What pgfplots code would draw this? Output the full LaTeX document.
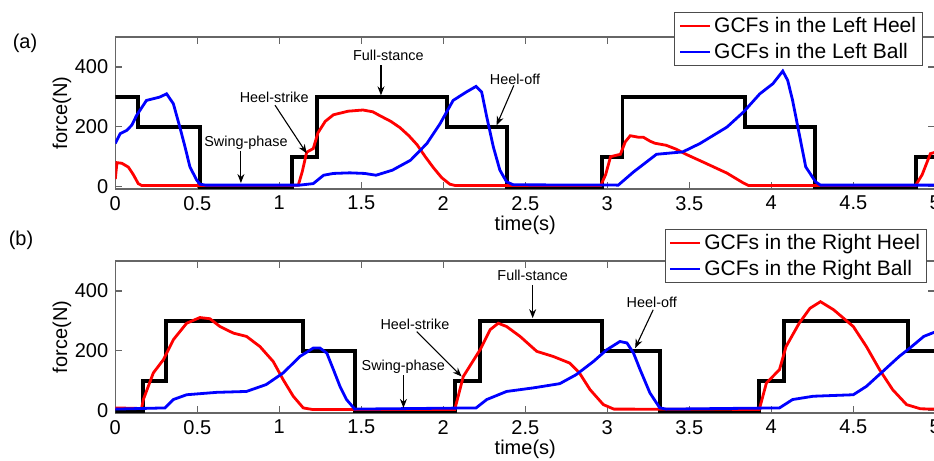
\documentclass[border=0pt]{standalone}
\usepackage{fontspec}
\setmainfont{Liberation Sans}
\usepackage{pgfplots}
\pgfplotsset{compat=1.18}
\usetikzlibrary{arrows.meta}

\definecolor{mred}{RGB}{255,0,0}
\definecolor{mblue}{RGB}{0,0,255}

\tikzset{
  ann/.style={font=\fontsize{7.2}{8}\selectfont, anchor=center},
  arr/.style={-{Stealth[length=4.5pt,width=3.5pt]}, line width=0.55pt},
}

\pgfplotsset{
  gcf/.style={
    scale only axis, width=410pt, height=76pt,
    xmin=0, xmax=5, ymin=-8, ymax=500,
    xtick={0,0.5,...,5}, ytick={0,200,400},
    tick align=inside, major tick length=3.5pt,
    axis line style={black!60, line width=0.6pt},
    tick style={black!60, line width=0.6pt},
    ticklabel style={font=\fontsize{10}{12}\selectfont},
    /pgf/number format/assume math mode=true,
    xlabel={time(s)}, ylabel={force(N)},
    label style={font=\fontsize{10}{12}\selectfont},
    xlabel style={at={(axis description cs:0.5,-0.237)}, anchor=center},
    ylabel style={at={(axis description cs:-0.065,0.5)}, anchor=center},
    legend cell align=left,
    legend style={font=\fontsize{10.5}{12}\selectfont, draw=black!70, fill=white,
      line width=0.5pt, inner xsep=2pt, inner ysep=1pt, row sep=1.5pt,
      nodes={inner sep=1.2pt}},
    legend image code/.code={\draw[#1] (0pt,0pt) -- (15pt,0pt);},
  },
  stepln/.style={black, line width=1.9pt, const plot, forget plot},
  heel/.style={mred, line width=1.4pt},
  ball/.style={mblue, line width=1.4pt},
}

\begin{document}
\begin{tikzpicture}
\path[use as bounding box] (0,0) rectangle (467pt,230.5pt);

\node[font=\fontsize{10}{12}\selectfont] at (12.5pt,209pt) {(a)};
\node[font=\fontsize{10}{12}\selectfont] at (10.5pt,110.5pt) {(b)};

% (a) left foot
\begin{axis}[gcf, at={(57.65pt,136pt)}, anchor=south west,
  legend style={at={(0.985,1.164)}, anchor=north east}]
\addplot[stepln] coordinates {(0,300) (0.140,200) (0.516,0) (1.079,100) (1.232,300) (2.021,200) (2.390,0) (2.970,100) (3.093,300) (3.840,200) (4.266,0) (4.880,100) (5,100)};
\addplot[heel] coordinates {(0,25) (0.01,80) (0.04,78) (0.08,65) (0.11,40) (0.14,10) (0.16,4) (0.5,4) (1.08,4) (1.116,5) (1.14,50) (1.167,115) (1.207,127) (1.236,180) (1.28,218) (1.33,240) (1.42,252) (1.51,256) (1.57,250) (1.61,238) (1.68,218) (1.736,197) (1.79,170) (1.84,140) (1.89,100) (1.94,63) (1.99,30) (2.04,8) (2.07,4) (2.96,4) (2.99,40) (3.02,100) (3.08,108) (3.11,150) (3.14,170) (3.19,165) (3.22,165) (3.26,152) (3.29,145) (3.36,138) (3.42,125) (3.48,108) (3.6,78) (3.73,45) (3.83,12) (3.86,4) (4.88,4) (4.92,40) (4.97,110) (5,115)};
\addplot[ball] coordinates {(0,144) (0.03,177) (0.07,188) (0.1,205) (0.13,238) (0.19,288) (0.27,299) (0.313,310) (0.354,277) (0.393,200) (0.425,133) (0.455,66) (0.496,22) (0.516,8) (0.55,5) (1.126,5) (1.207,10) (1.27,38) (1.33,44) (1.43,46) (1.52,44) (1.59,38) (1.69,55) (1.80,88) (1.90,144) (1.98,210) (2.06,288) (2.14,316) (2.20,335) (2.234,316) (2.265,233) (2.305,133) (2.345,55) (2.386,16) (2.427,6) (3.067,5) (3.16,49) (3.30,108) (3.46,116) (3.565,144) (3.73,199) (3.83,249) (3.93,310) (4.01,344) (4.07,386) (4.10,355) (4.13,288) (4.17,177) (4.21,66) (4.27,16) (4.3,5) (5,5)};
\legend{GCFs in the Left Heel, GCFs in the Left Ball}
\node[ann] at (axis cs:0.797,145) {Swing-phase};
\draw[arr] (axis cs:0.766,118) -- (axis cs:0.766,12);
\node[ann] at (axis cs:0.969,299) {Heel-strike};
\draw[arr] (axis cs:0.974,272) -- (axis cs:1.167,111);
\node[ann] at (axis cs:1.665,438) {Full-stance};
\draw[arr] (axis cs:1.62,405) -- (axis cs:1.62,305);
\node[ann] at (axis cs:2.437,358) {Heel-off};
\draw[arr] (axis cs:2.43,338) -- (axis cs:2.325,205);
\end{axis}

% (b) right foot
\begin{axis}[gcf, at={(57.65pt,24pt)}, anchor=south west,
  legend style={at={(0.99,1.21)}, anchor=north east}]
\addplot[stepln] coordinates {(0,0) (0.171,100) (0.307,300) (1.146,200) (1.462,0) (2.071,100) (2.224,300) (2.966,200) (3.321,0) (3.927,100) (4.079,300) (4.835,200) (5,200)};
\addplot[heel] coordinates {(0,9) (0.16,7) (0.171,37) (0.232,126) (0.293,170) (0.354,237) (0.435,292) (0.516,311) (0.577,307) (0.638,281) (0.72,259) (0.80,248) (0.882,214) (0.963,164) (1.024,103) (1.085,48) (1.146,9) (1.2,4) (2.07,4) (2.122,114) (2.224,203) (2.285,270) (2.335,292) (2.386,281) (2.468,248) (2.57,198) (2.67,181) (2.77,159) (2.83,126) (2.895,70) (2.976,20) (3.04,5) (3.927,4) (3.97,92) (4.05,137) (4.09,214) (4.17,292) (4.236,342) (4.30,364) (4.38,337) (4.50,281) (4.58,214) (4.66,137) (4.74,70) (4.825,20) (4.91,6) (5,5)};
\addplot[ball] coordinates {(0,5) (0.303,9) (0.354,37) (0.435,53) (0.618,61) (0.80,64) (0.92,87) (1.024,126) (1.126,181) (1.207,209) (1.248,209) (1.29,192) (1.33,137) (1.37,81) (1.41,37) (1.46,5) (2.2,9) (2.265,37) (2.386,64) (2.55,76) (2.71,90) (2.81,120) (2.915,164) (2.996,203) (3.077,231) (3.12,226) (3.16,192) (3.20,137) (3.26,59) (3.32,9) (3.36,5) (4.05,9) (4.13,37) (4.256,48) (4.50,53) (4.58,81) (4.68,131) (4.78,181) (4.845,209) (4.93,248) (4.99,261) (5,262)};
\legend{GCFs in the Right Heel, GCFs in the Right Ball}
\node[ann] at (axis cs:1.756,148) {Swing-phase};
\draw[arr] (axis cs:1.757,118) -- (axis cs:1.757,9);
\node[ann] at (axis cs:1.827,289) {Heel-strike};
\draw[arr] (axis cs:1.838,264) -- (axis cs:2.112,114);
\node[ann] at (axis cs:2.545,453) {Full-stance};
\draw[arr] (axis cs:2.545,420) -- (axis cs:2.545,309);
\node[ann] at (axis cs:3.271,361) {Heel-off};
\draw[arr] (axis cs:3.28,337) -- (axis cs:3.17,209);
\end{axis}
\end{tikzpicture}
\end{document}
